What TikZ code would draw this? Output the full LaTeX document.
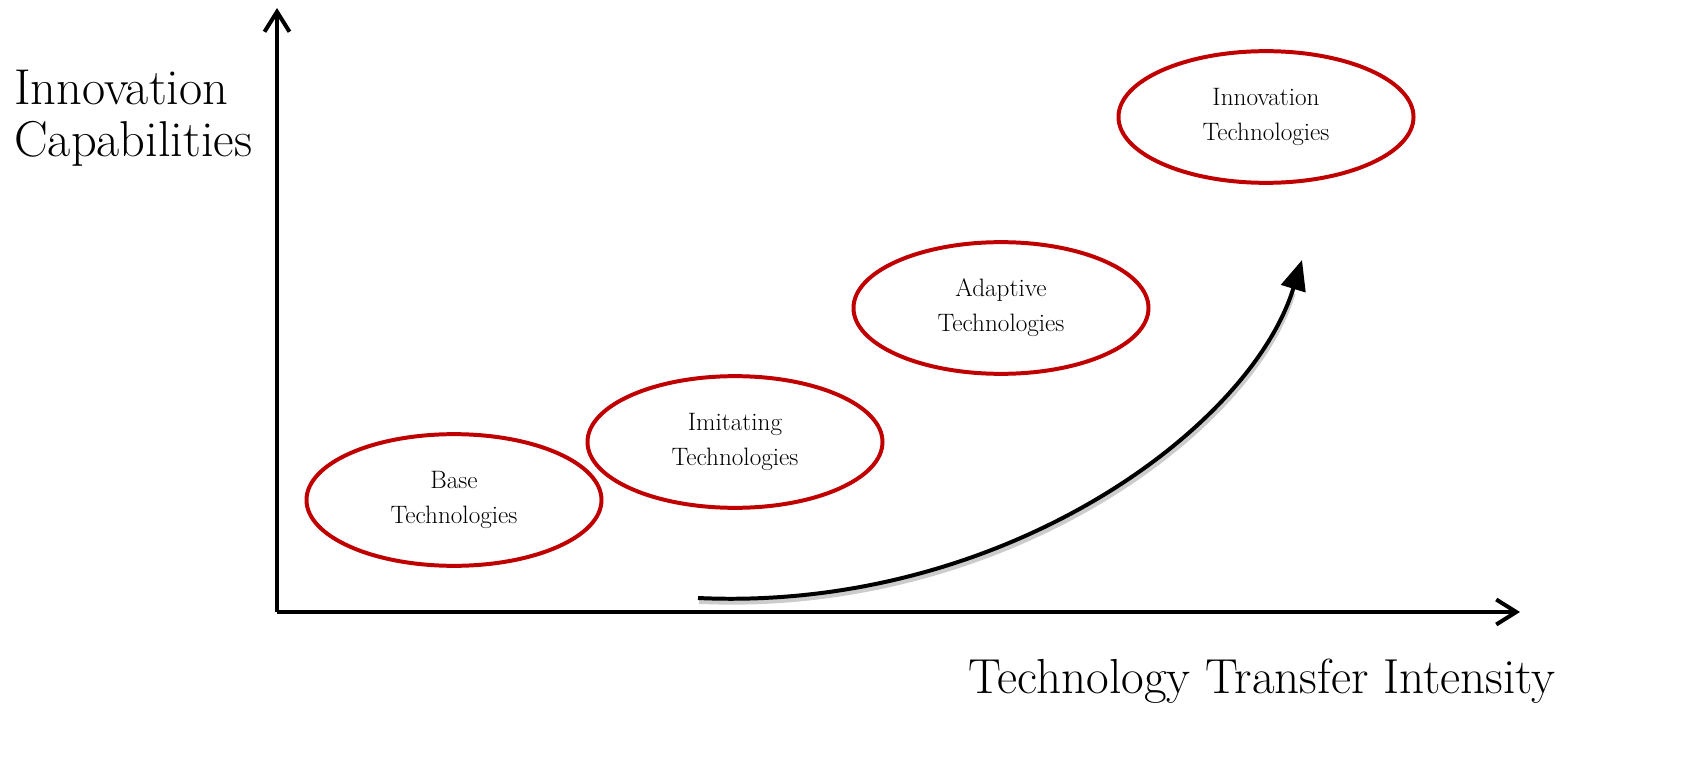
\documentclass[tikz,border=0pt]{standalone}
\usetikzlibrary{arrows.meta,shapes.geometric}
\definecolor{ovalred}{RGB}{192,0,0}
\begin{document}
\begin{tikzpicture}[x=0.03cm,y=-0.03cm]
	\tikzstyle{every node}=[inner sep=0pt]
	\tikzstyle{oval}=[ellipse, draw=ovalred, line width=3.4pt, minimum width=8.85cm, minimum height=3.95cm, align=center, font=\fontsize{21.5}{30}\selectfont]
	\tikzstyle{axis}=[line width=3.4pt, -{Straight Barb[length=6mm, width=7.5mm, line width=3.4pt]}]
	\useasboundingbox (0,0) rectangle (1697,761);
	% axes
	\coordinate (o) at (277,612);
	\coordinate (ytip) at (277,8);
	\coordinate (xtip) at (1520,612);
	\draw[axis] (o) -- (ytip);
	\draw[axis] (o) -- (xtip);
	\draw (14,118) node (ylab) [anchor=west, align=left, font=\fontsize{43}{44}\selectfont] {Innovation\\Capabilities};
	\draw (1556,681) node (xlab) [anchor=east, font=\fontsize{42}{44}\selectfont] {Technology Transfer Intensity};
	% stages
	\draw (454,500) node (base) [oval] {Base\\Technologies};
	\draw (735,442) node (imit) [oval] {Imitating\\Technologies};
	\draw (1001,308) node (adapt) [oval] {Adaptive\\Technologies};
	\draw (1266,117) node (innov) [oval] {Innovation\\Technologies};
	% growth arrow
	\coordinate (gs) at (698,598);
	\coordinate (ge) at (1302,260);
	\draw[black!20, line width=4pt, transform canvas={shift={(1pt,-3pt)}}] (gs) .. controls (1000,612) and (1250,430) .. (1292,290);
	\draw[line width=3.4pt, -{Triangle[length=9mm, width=7.5mm]}] (gs) .. controls (1000,612) and (1250,430) .. (ge);
\end{tikzpicture}
\end{document}
